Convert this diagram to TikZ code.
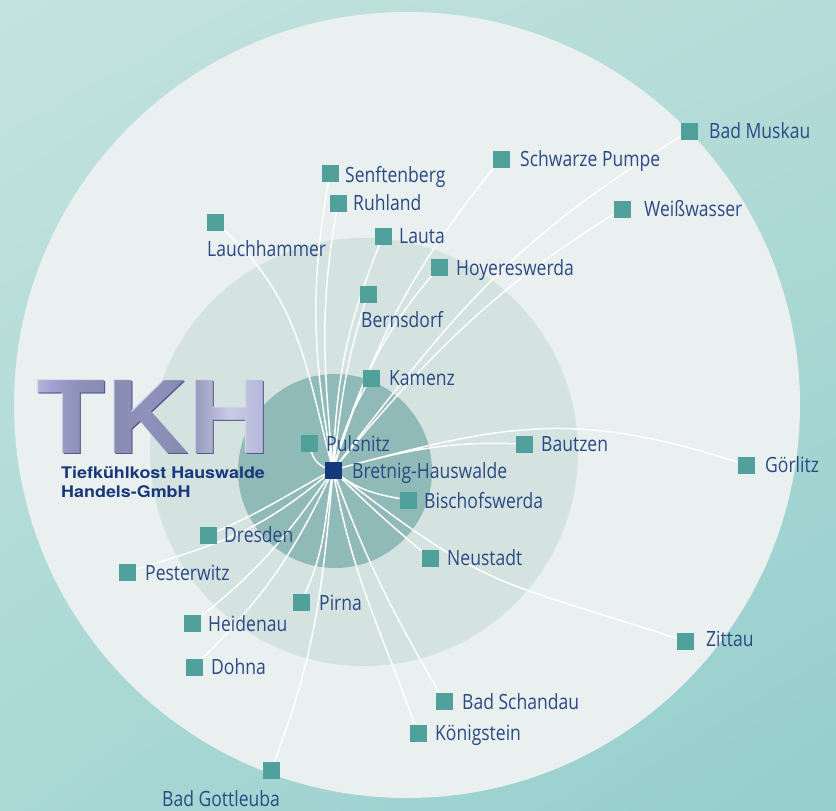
\documentclass[tikz,border=0pt]{standalone}
\usepackage{fontspec}
\usetikzlibrary{backgrounds,shadings,fadings}
\setmainfont[FakeStretch=0.835]{Open Sans}
\newfontfamily\logofont[FakeStretch=1.14]{TeX Gyre Heros}
\newfontfamily\subfont[FakeStretch=1.12]{TeX Gyre Heros}
\definecolor{bgA}{HTML}{C4E3DE}
\definecolor{bgB}{HTML}{B5DCD8}
\definecolor{bgC}{HTML}{A9D8D5}
\definecolor{bgD}{HTML}{94CECD}
\definecolor{ringA}{HTML}{E9F0EF}
\definecolor{ringB}{HTML}{D4E2E0}
\definecolor{ringC}{HTML}{8FBAB7}
\definecolor{site}{HTML}{50A09B}
\definecolor{hubc}{HTML}{17387A}
\definecolor{ink}{HTML}{2A4A85}
\definecolor{logoM}{HTML}{9FA2CF}
\definecolor{logoD}{HTML}{55578F}
\definecolor{logoL}{HTML}{DADBEA}
\pgfdeclarehorizontalshading{tkhmetal}{100bp}{
  color(0bp)=(logoM);
  color(8bp)=(logoM!70!white);
  color(16bp)=(logoM!85!black);
  color(22bp)=(logoM!60!white);
  color(28bp)=(logoM);
  color(33bp)=(logoM!90!black);
  color(40bp)=(logoM!85!black);
  color(48bp)=(logoM!90!black);
  color(56bp)=(logoM!85!black);
  color(66bp)=(logoM!55!white);
  color(74bp)=(logoM!80!white);
  color(82bp)=(logoM!60!white);
  color(90bp)=(logoM!90!white);
  color(100bp)=(logoM!60!white)}
\tikzset{
  x=1pt,y=-1pt,
  sitebox/.style={rectangle,fill=site,minimum size=17pt,inner sep=0pt,outer sep=0pt},
  hubbox/.style={rectangle,fill=hubc,minimum size=17pt,inner sep=0pt,outer sep=0pt},
  lab/.style={anchor=base west,inner sep=0pt,text=ink,font=\fontsize{21}{24}\selectfont},
  link/.style={draw=white,line width=1.5pt},
  logoletter/.style={inner sep=0pt,font=\logofont\bfseries\fontsize{100}{100}\selectfont},
  logosub/.style={anchor=base west,inner sep=0pt,text=hubc,font=\subfont\bfseries\fontsize{16}{18}\selectfont}
}
\begin{tikzfadingfrompicture}[name=tkhfade]
  \node[logoletter,text=transparent!0] (fadetext) at (0,0) {TKH};
\end{tikzfadingfrompicture}
\begin{document}
\begin{tikzpicture}
\useasboundingbox (0,0) rectangle (836,811);
% nodes
\node[hubbox] (hub) at (333,470) {};
\node[sitebox] (muskau) at (689,131) {};
\node[sitebox] (pumpe) at (501,159) {};
\node[sitebox] (weiss) at (622,209) {};
\node[sitebox] (senft) at (330,173) {};
\node[sitebox] (ruhland) at (338,203) {};
\node[sitebox] (lauch) at (215,222) {};
\node[sitebox] (lauta) at (383,236) {};
\node[sitebox] (hoyer) at (439,267) {};
\node[sitebox] (berns) at (368,294) {};
\node[sitebox] (kamenz) at (371,378) {};
\node[sitebox] (puls) at (309,443) {};
\node[sitebox] (bautzen) at (524,444) {};
\node[sitebox] (goerl) at (746,465) {};
\node[sitebox] (bisch) at (408,500) {};
\node[sitebox] (neust) at (430,558) {};
\node[sitebox] (zittau) at (685,641) {};
\node[sitebox] (dresd) at (208,535) {};
\node[sitebox] (pest) at (127,572) {};
\node[sitebox] (pirna) at (301,602) {};
\node[sitebox] (heid) at (192,623) {};
\node[sitebox] (dohna) at (194,667) {};
\node[sitebox] (schand) at (444,701) {};
\node[sitebox] (koenig) at (418,733) {};
\node[sitebox] (gott) at (271,770) {};
% backdrop and connectors
\begin{scope}[on background layer]
  \shade[upper left=bgA,upper right=bgB,lower left=bgC,lower right=bgD] (0,0) rectangle (836,811);
  \fill[ringA] (407,405) circle[radius=393];
  \fill[ringB] (364,452) circle[radius=214];
  \fill[ringC] (335,471) circle[radius=97];
  \path[link]
    (hub.center) to[out=52,in=212,looseness=1.1] (muskau)
    (hub.center) to[out=72,in=231] (pumpe)
    (hub.center) to[out=50,in=212] (weiss)
    (hub.center) to[out=100,in=260] (senft)
    (hub.center) to[out=95,in=260] (ruhland)
    (hub.center) to[out=105,in=318] (lauch)
    (hub.center) to[out=88,in=248] (lauta)
    (hub.center) to[out=73,in=230] (hoyer)
    (hub.center) to[out=83,in=252] (berns)
    (hub.center) to[out=75,in=240] (kamenz)
    (hub.center) to[out=170,in=285] (puls)
    (hub.center) to[out=15,in=178] (bautzen)
    (hub.center) to[out=15,in=162,looseness=1.1] (goerl)
    (hub.center) to[out=-40,in=170] (bisch)
    (hub.center) to[out=-45,in=140] (neust)
    (hub.center) to[out=-38,in=162,looseness=1.3] (zittau)
    (hub.center) to[out=208,in=23] (dresd)
    (hub.center) to[out=220,in=17,looseness=1.1] (pest)
    (hub.center) to[out=235,in=38] (heid)
    (hub.center) to[out=245,in=45] (dohna)
    (hub.center) to[out=260,in=65] (pirna)
    (hub.center) to[out=265,in=69] (gott)
    (hub.center) to[out=290,in=120] (schand)
    (hub.center) to[out=280,in=110] (koenig);
\end{scope}
% labels
\node[lab] (lmuskau) at (709,138) {Bad Muskau};
\node[lab] (lpumpe) at (520,166) {Schwarze Pumpe};
\node[lab] (lweiss) at (644,216) {Weißwasser};
\node[lab] (lsenft) at (345,182) {Senftenberg};
\node[lab] (lruhland) at (353,210) {Ruhland};
\node[lab] (llauch) at (207,256) {Lauchhammer};
\node[lab] (llauta) at (399,243) {Lauta};
\node[lab] (lhoyer) at (456,275) {Hoyereswerda};
\node[lab] (lberns) at (361,327) {Bernsdorf};
\node[lab] (lkamenz) at (389,385) {Kamenz};
\node[lab] (lpuls) at (326,451) {Pulsnitz};
\node[lab] (lhub) at (352,478) {Bretnig-Hauswalde};
\node[lab] (lbautzen) at (541,451) {Bautzen};
\node[lab] (lgoerl) at (765,472) {Görlitz};
\node[lab] (lbisch) at (424,508) {Bischofswerda};
\node[lab] (lneust) at (447,565) {Neustadt};
\node[lab] (lzittau) at (706,646) {Zittau};
\node[lab] (ldresd) at (224,542) {Dresden};
\node[lab] (lpest) at (145,580) {Pesterwitz};
\node[lab] (lpirna) at (319,610) {Pirna};
\node[lab] (lheid) at (208,631) {Heidenau};
\node[lab] (ldohna) at (211,674) {Dohna};
\node[lab] (lschand) at (462,709) {Bad Schandau};
\node[lab] (lkoenig) at (435,740) {Königstein};
\node[lab] (lgott) at (162,806) {Bad Gottleuba};
% logo
\node[logoletter,text=logoM,anchor=base west] (logoc) at (36.5,453) {TKH};
\fill[logoD,path fading=tkhfade,fit fading=false,fading transform={shift={([shift={(1.3,1.3)}]logoc.center)}}] (28,370) rectangle (280,462);
\fill[logoL,path fading=tkhfade,fit fading=false,fading transform={shift={([shift={(-1,-1)}]logoc.center)}}] (28,370) rectangle (280,462);
\shade[shading=tkhmetal,shading angle=0,path fading=tkhfade,fit fading=false,fading transform={shift={(logoc.center)}}] (38,370) rectangle (272,462);
\node[logosub] (sub1) at (61,478) {Tiefkühlkost Hauswalde};
\node[logosub] (sub2) at (61,497) {Handels-GmbH};
\end{tikzpicture}
\end{document}
